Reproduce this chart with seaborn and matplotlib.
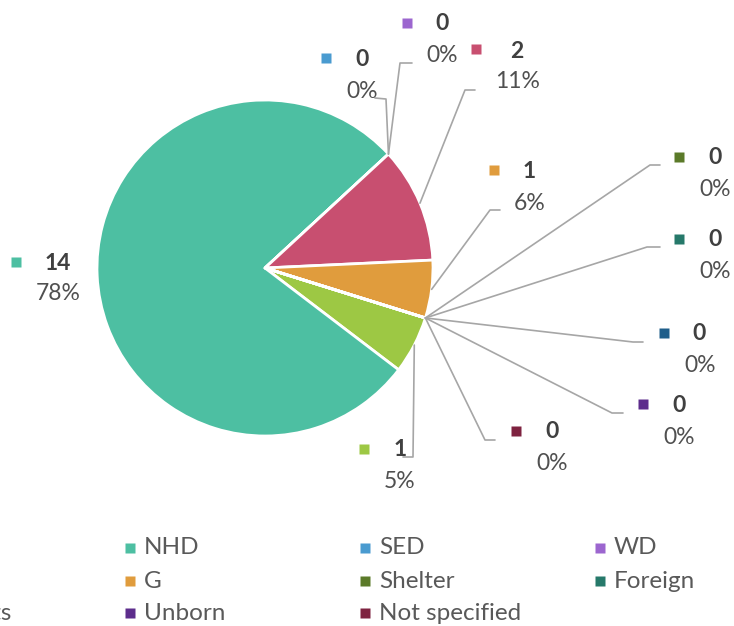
import numpy as np
import matplotlib
matplotlib.use("Agg")
import matplotlib.pyplot as plt
import seaborn as sns

# data (series order as in the legend)
categories = ["EHD", "NHD", "SED", "WD", "CHD", "G", "Shelter", "Foreign",
              "Residents", "Unborn", "Not specified"]
values = [1, 14, 0, 0, 2, 1, 0, 0, 0, 0, 0]
pct_labels = ["5%", "78%", "0%", "0%", "11%", "6%", "0%", "0%", "0%", "0%", "0%"]
colors = ["#9DC844", "#4DBFA2", "#4A9BD0", "#9C66CF", "#C84F70", "#E09C3D",
          "#5B7A29", "#26796A", "#1F5E8A", "#5D2D8C", "#7E2340"]

# label layout, pixels from top-left
marker_pos = [(364, 449), (16, 262), (326, 58), (407, 23), (476, 49), (494, 170),
              (679, 157), (679, 239), (664, 333), (643, 404), (516, 431)]
value_pos = [(400, 450), (58, 263), (362, 60), (442, 24), (517, 51), (529, 172),
             (715, 158), (715, 240), (699, 334), (679, 405), (552, 432)]
pct_pos = [(400, 482), (58, 294), (362, 91), (442, 55), (518, 82), (530, 203),
           (715, 190), (715, 271), (700, 366), (679, 437), (552, 463)]
leaders = [[(413, 457), (403, 457)], None, [(386, 99), (375, 98)], [(400, 63), (412, 63)],
           [(465, 90), (475, 90)], [(490, 210), (500, 210)], [(650, 165), (660, 165)],
           [(647, 247), (660, 247)], [(633, 342), (643, 342)], [(612, 413), (623, 413)],
           [(485, 440), (495, 440)]]
legend_cols = [-105, 130, 365, 600]
legend_rows = [548, 581, 613]

W, H = 734, 626
sns.set_theme(style="white")
plt.rcParams['font.family'] = ['Lato', 'DejaVu Sans']
palette = sns.color_palette(colors)


def px(x, y):
    return x, H - y


fig = plt.figure(figsize=(W / 100, H / 100), dpi=100)
ax = fig.add_axes([0, 0, 1, 1])
cx, cy = px(265, 268)
r = 168
wedges, _ = ax.pie(values, colors=palette, startangle=-17.3, counterclock=False,
                   center=(cx, cy), radius=r,
                   wedgeprops=dict(edgecolor="white", linewidth=2))
ax.set_xlim(0, W)
ax.set_ylim(0, H)
ax.set_aspect("equal")
ax.axis("off")

for i, w in enumerate(wedges):
    if leaders[i] is not None:
        t = np.deg2rad((w.theta1 + w.theta2) / 2)
        pts = [(cx + r * np.cos(t), cy + r * np.sin(t))] + [px(*p) for p in leaders[i]]
        xs, ys = zip(*pts)
        ax.plot(xs, ys, color="#A6A6A6", lw=1.2, zorder=1)
    mx, my = px(*marker_pos[i])
    ax.plot(mx, my, marker="s", ms=7.2, color=palette[i], mec="none")
    ax.text(*px(*value_pos[i]), str(values[i]), ha="center", va="center",
            fontsize=16.5, fontweight="bold", color="#404040")
    ax.text(*px(*pct_pos[i]), pct_labels[i], ha="center", va="center",
            fontsize=16.5, color="#505050")

# legend laid out in 4 equal columns, the first one falls off the left edge
for i, name in enumerate(categories):
    row, col = divmod(i, 4)
    lx, ly = px(legend_cols[col], legend_rows[row])
    ax.plot(lx, ly, marker="s", ms=7.2, color=palette[i], mec="none", clip_on=False)
    ax.text(lx + 14, ly, name, ha="left", va="center", fontsize=17.5, color="#595959")

fig.savefig("out.png", dpi=100)
